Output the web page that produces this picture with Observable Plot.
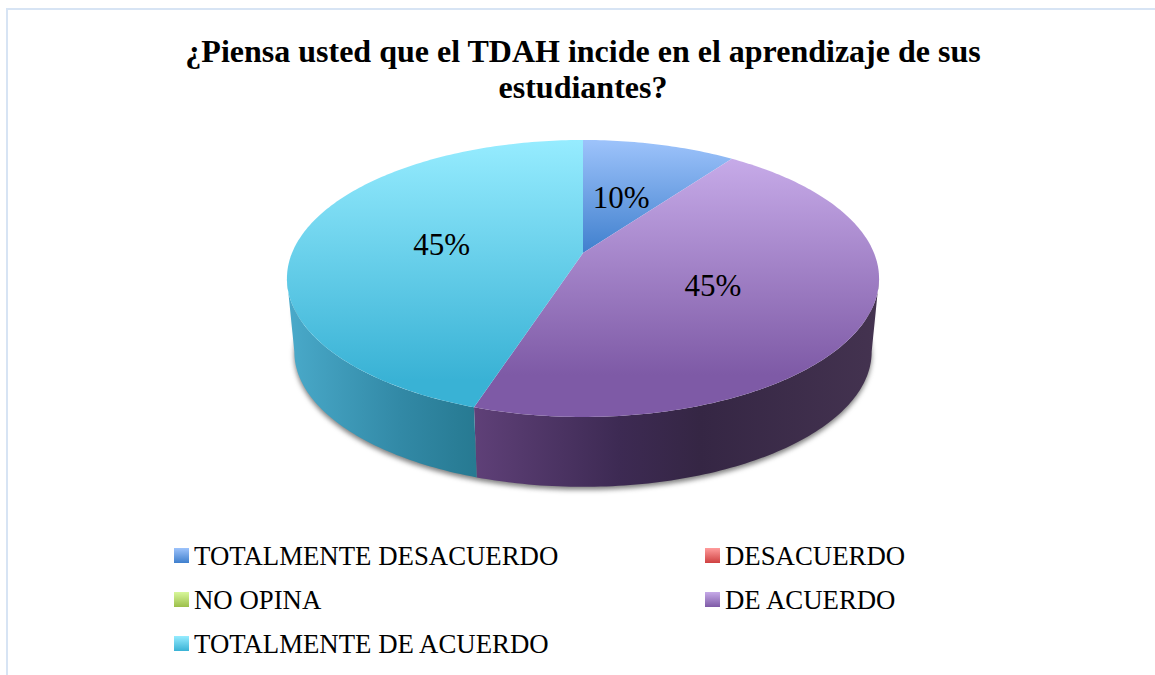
<!DOCTYPE html>
<html lang="es"><head><meta charset="utf-8">
<script src="https://cdn.jsdelivr.net/npm/d3@7"></script>
<script src="https://cdn.jsdelivr.net/npm/@observablehq/plot@0.6"></script>
<style>
html,body{margin:0;padding:0;background:#fff;overflow:hidden}
#frame{position:absolute;left:6px;top:8px;width:1149px;height:667px;box-sizing:border-box;border-left:2px solid #d7e4f4;border-top:2px solid #d7e4f4}
#title{position:absolute;left:0;top:33px;width:1166px;text-align:center;font:bold 32px/36px "Liberation Serif",serif;color:#000}
#chart{position:absolute;left:0;top:130px;width:1155px;height:370px}
.lg{position:absolute;font:26.8px/30px "Liberation Serif",serif;color:#000;white-space:nowrap}
.sw{position:absolute;width:15px;height:15px}
</style></head><body>
<div id="frame"></div>
<div id="title">¿Piensa usted que el TDAH incide en el aprendizaje de sus<br>estudiantes?</div>
<div id="chart"></div>
<div id="legend"></div>
<script>
const categories = ["TOTALMENTE DESACUERDO","DESACUERDO","NO OPINA","DE ACUERDO","TOTALMENTE DE ACUERDO"];
const values = [10,0,0,45,45];
const topFills = ["#9dc3fb","#ff9c9c","#d8f79a","#c6aae8","#96ecff"];
const lowFills = ["#3f7fcd","#cf4141","#9cbf4a","#7e5aa6","#39b2d5"];
const legendCols = [174,705,174,705,174];
const legendRows = [556,556,600,600,644];

// perspective of the tilted disc
const k = 0.184, shrink = 0.975, drop = 0.553;
const rad = d => d * Math.PI / 180;
function proj(deg, r = 1) {
  const u = r * Math.sin(rad(deg)), v = -r * Math.cos(rad(deg)), w = 1 - k * v;
  return [u / w, v / w];
}
const low = ([x, y]) => [x * shrink, y * shrink + drop];
const arcs = d3.pie().sort(null).value(d => d).startAngle(0).endAngle(2 * Math.PI)(values)
  .map((a, i) => ({i, a0: a.startAngle * 180 / Math.PI, a1: a.endAngle * 180 / Math.PI, value: values[i]}))
  .filter(a => a.value > 0);
const sweep = (a0, a1) => { const n = Math.max(1, Math.ceil(a1 - a0)); return d3.range(n + 1).map(j => a0 + (a1 - a0) * j / n); };

const silR = Math.acos(-k) * 180 / Math.PI, silL = 360 - silR;

const topRows = arcs.flatMap(a => sweep(a.a0, a.a1).map(t => { const [x, y] = proj(t); return {i: a.i, x, y}; }));
const wallRows = arcs.flatMap(a => {
  const s = Math.max(a.a0, silR), e = Math.min(a.a1, silL);
  if (e <= s) return [];
  return sweep(s, e).map(t => { const p = proj(t), q = low(p); return {i: a.i, x1: p[0], y1: p[1], x2: q[0], y2: q[1]}; });
});
const shadowRows = sweep(silR - 10, silL + 10).map(t => { const p = low(proj(t)); return {x: p[0], y: p[1], x0: p[0], y0: p[1] - 0.3}; });
const labelRows = arcs.map(a => { const [x, y] = proj((a.a0 + a.a1) / 2, 0.49); return {x, y, label: a.value + "%"}; });

const defs = () => {
  const s = d3.create("svg:defs");
  arcs.forEach(a => {
    const [y1, y2] = a.i === 0 ? [10, 124] : a.i === 3 ? [30, 245] : [10, 250];
    const g = s.append("linearGradient").attr("id", "top" + a.i).attr("gradientUnits", "userSpaceOnUse")
      .attr("x1", 0).attr("x2", 0).attr("y1", y1).attr("y2", y2);
    g.append("stop").attr("offset", 0).attr("stop-color", topFills[a.i]);
    g.append("stop").attr("offset", 1).attr("stop-color", lowFills[a.i]);
  });
  const walls = {3: [[474, "#5f4078"], [620, "#3d2a53"], [700, "#352644"], [880, "#443350"]],
                 4: [[290, "#49a9c9"], [400, "#3289a6"], [474, "#277a92"]]};
  Object.entries(walls).forEach(([i, stops]) => {
    const g = s.append("linearGradient").attr("id", "wall" + i).attr("gradientUnits", "userSpaceOnUse")
      .attr("x1", stops[0][0]).attr("x2", stops[stops.length - 1][0]).attr("y1", 0).attr("y2", 0);
    const [a, b] = [stops[0][0], stops[stops.length - 1][0]];
    stops.forEach(([p, c]) => g.append("stop").attr("offset", (p - a) / (b - a)).attr("stop-color", c));
  });
  const svg = d3.create("svg:g"); svg.node().appendChild(s.node());
  return svg.node();
};

const plot = Plot.plot({
  width: 1155, height: 370, margin: 0,
  style: {background: "transparent", overflow: "visible"},
  x: {domain: [-1, 1], range: [292, 874], axis: null},
  y: {domain: [-1, 1], range: [253 - 133.8 - 130, 253 + 133.8 - 130], axis: null},
  marks: [
    defs,
    Plot.area(shadowRows, {x1: "x0", y1: "y0", x2: "x", y2: "y", fill: "#555", dy: 3, imageFilter: "blur(2.5px)", fillOpacity: 0.75}),
    ...arcs.filter(a => wallRows.some(r => r.i === a.i)).map(a =>
      Plot.area(wallRows.filter(r => r.i === a.i), {x1: "x1", y1: "y1", x2: "x2", y2: "y2", fill: `url(#wall${a.i})`})),
    ...arcs.map(a =>
      Plot.area(topRows.filter(r => r.i === a.i), {x1: () => 0, y1: () => 0, x2: "x", y2: "y", fill: `url(#top${a.i})`})),
    Plot.text(labelRows, {x: "x", y: "y", text: "label", fontSize: 31, fontFamily: "Liberation Serif", fill: "#000", dx: -3, dy: 2})
  ]
});
document.getElementById("chart").appendChild(plot);

const lg = document.getElementById("legend");
categories.forEach((c, i) => {
  const sw = document.createElement("div"); sw.className = "sw";
  sw.style.left = legendCols[i] + "px"; sw.style.top = (legendRows[i] - 8) + "px";
  sw.style.background = `linear-gradient(${topFills[i]},${lowFills[i]})`;
  const t = document.createElement("div"); t.className = "lg"; t.textContent = c;
  t.style.left = (legendCols[i] + 20) + "px"; t.style.top = (legendRows[i] - 15) + "px";
  lg.append(sw, t);
});
</script>
</body></html>
